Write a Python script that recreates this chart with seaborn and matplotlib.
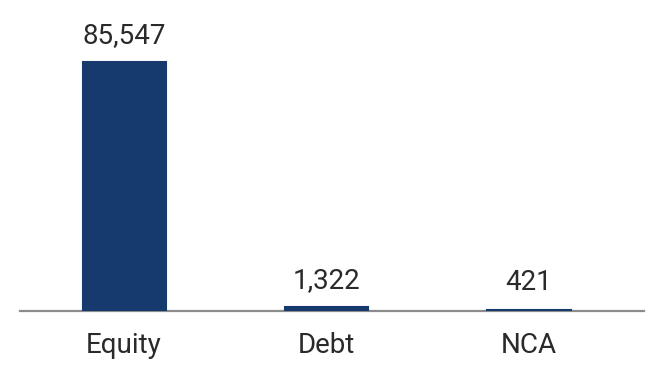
import matplotlib
matplotlib.use("Agg")
import matplotlib.pyplot as plt
import seaborn as sns
import pandas as pd

categories = ["Equity", "Debt", "NCA"]
values = [85547, 1322, 421]
labels = ["85,547", "1,322", "421"]

sns.set_theme(style="white")
plt.rcParams['font.family'] = ['Roboto', 'DejaVu Sans']

df = pd.DataFrame({"cat": categories, "val": values})

fig = plt.figure(figsize=(6.64, 3.67), dpi=100)
ax = fig.add_axes([20/664, 1-311/367, 624/664, 291/367])
sns.barplot(data=df, x="cat", y="val", color="#173a6e", saturation=1, width=0.41,
            edgecolor="#173a6e", linewidth=1.5, ax=ax)
ax.set_xlim(-0.514, 2.568)
ax.set_ylim(0, 100000)
for i, (v, t) in enumerate(zip(values, labels)):
    ax.annotate(t, (i, v), xytext=(0, 14), textcoords="offset points",
                ha="center", va="baseline", fontsize=20, color="#2a2a2a")
for s in ["top", "right", "left"]:
    ax.spines[s].set_visible(False)
ax.spines["bottom"].set_color("#8c8c8c")
ax.spines["bottom"].set_linewidth(1.6)
ax.spines["bottom"].set_zorder(0)
ax.set_yticks([])
ax.set_xlabel("")
ax.set_ylabel("")
ax.tick_params(axis="x", length=0, pad=15, labelsize=20, labelcolor="#2a2a2a")
fig.savefig("out.png", dpi=100)
